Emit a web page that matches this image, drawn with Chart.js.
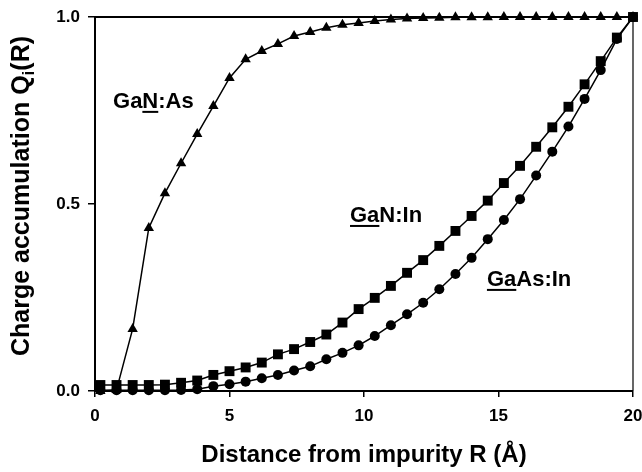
<!DOCTYPE html>
<html lang="en">
<head>
    <meta charset="UTF-8">
    <title>Charge accumulation</title>
    <style>
        html, body {margin: 0; padding: 0; background: #fff;}
        #wrap {width: 642px; height: 472px;}
    </style>
    <script src="https://cdn.jsdelivr.net/npm/chart.js@4.4.0/dist/chart.umd.min.js"></script>
</head>
<body>
    <div id="wrap">
        <canvas id="qChart" width="642" height="472"></canvas>
    </div>

    <script>
        // distance from impurity R (Angstrom)
        const distances = [0.2, 0.8, 1.4, 2.0, 2.6, 3.2, 3.8, 4.4, 5.0, 5.6, 6.2, 6.8, 7.4, 8.0, 8.6, 9.2, 9.8,
                           10.4, 11.0, 11.6, 12.2, 12.8, 13.4, 14.0, 14.6, 15.2, 15.8, 16.4, 17.0, 17.6, 18.2, 18.8, 19.4, 20.0];

        // GaN:As (triangles)
        const ganAs = [0.0, 0.003, 0.166, 0.436, 0.529, 0.609, 0.687, 0.762, 0.837, 0.887, 0.909, 0.928, 0.949, 0.960, 0.971, 0.979, 0.984,
                       0.989, 0.993, 0.996, 0.997, 0.998, 0.999, 0.999, 0.999, 1.0, 1.0, 1.0, 1.0, 1.0, 1.0, 1.0, 1.0, 1.0];

        // GaN:In (squares)
        const ganIn = [0.016, 0.016, 0.016, 0.016, 0.017, 0.022, 0.028, 0.043, 0.053, 0.063, 0.076, 0.098, 0.112, 0.131, 0.151, 0.183, 0.219,
                       0.249, 0.281, 0.316, 0.350, 0.388, 0.428, 0.468, 0.509, 0.556, 0.602, 0.653, 0.705, 0.760, 0.820, 0.882, 0.945, 1.0];

        // GaAs:In (circles)
        const gaasIn = [0.002, 0.002, 0.002, 0.002, 0.002, 0.003, 0.005, 0.013, 0.018, 0.025, 0.034, 0.043, 0.055, 0.066, 0.085, 0.102, 0.122,
                        0.147, 0.176, 0.205, 0.236, 0.272, 0.313, 0.356, 0.406, 0.457, 0.513, 0.576, 0.640, 0.707, 0.781, 0.858, 0.941, 1.0];

        const xTicks = [0, 5, 10, 15, 20];
        const yTicks = [0.0, 0.5, 1.0];

        // text labels next to the curves: [left part, underlined part, right part, x, y]
        const curveLabels = [
            ['Ga', 'N', ':As', 0.67, 0.757],
            ['', 'Ga', 'N:In', 9.48, 0.452],
            ['', 'Ga', 'As:In', 14.57, 0.281]
        ];

        const FONT = '"Liberation Sans", Arial, Helvetica, sans-serif';

        function toPoints(ys) {
            return distances.map((x, i) => ({x: x, y: ys[i]}));
        }

        function series(label, ys, style, radius) {
            return {
                label: label,
                data: toPoints(ys),
                showLine: true,
                borderColor: '#000',
                borderWidth: 1.5,
                backgroundColor: '#000',
                pointBackgroundColor: '#000',
                pointBorderColor: '#000',
                pointBorderWidth: 0,
                pointStyle: style,
                pointRadius: radius,
                pointHoverRadius: radius,
                tension: 0,
                clip: false
            };
        }

        // box + axis titles + curve labels
        const extras = {
            id: 'extras',
            afterDraw(chart) {
                const ctx = chart.ctx;
                const a = chart.chartArea;
                const xs = chart.scales.x, ys = chart.scales.y;
                ctx.save();
                ctx.strokeStyle = '#000';
                ctx.lineWidth = 2;
                ctx.beginPath();
                ctx.moveTo(a.right, a.top);
                ctx.lineTo(a.left, a.top);
                ctx.lineTo(a.left, a.bottom);
                ctx.lineTo(a.right, a.bottom);
                ctx.stroke();
                ctx.lineWidth = 1.2;
                ctx.beginPath();
                ctx.moveTo(a.right, a.top);
                ctx.lineTo(a.right, a.bottom);
                ctx.stroke();

                ctx.fillStyle = '#000';

                // x title
                ctx.font = 'bold 24px ' + FONT;
                ctx.textAlign = 'center';
                ctx.textBaseline = 'alphabetic';
                ctx.fillText('Distance from impurity R (\u00C5)', (a.left + a.right) / 2, 462);

                // y title with subscript i
                ctx.save();
                ctx.translate(29, 196);
                ctx.rotate(-Math.PI / 2);
                ctx.textAlign = 'left';
                const big = 'bold 25px ' + FONT, small = 'bold 17px ' + FONT;
                ctx.font = big;
                const p1 = 'Charge accumulation Q', p3 = '(R)';
                const w1 = ctx.measureText(p1).width, w3 = ctx.measureText(p3).width;
                ctx.font = small;
                const w2 = ctx.measureText('i').width;
                let x0 = -(w1 + w2 + w3) / 2;
                ctx.font = big;
                ctx.fillText(p1, x0, 0);
                ctx.font = small;
                ctx.fillText('i', x0 + w1, 5);
                ctx.font = big;
                ctx.fillText(p3, x0 + w1 + w2, 0);
                ctx.restore();

                // curve labels
                ctx.font = 'bold 22px ' + FONT;
                ctx.textAlign = 'left';
                curveLabels.forEach(l => {
                    const px = xs.getPixelForValue(l[3]);
                    const py = ys.getPixelForValue(l[4]);
                    const wa = ctx.measureText(l[0]).width;
                    const wb = ctx.measureText(l[1]).width;
                    ctx.fillText(l[0] + l[1] + l[2], px, py);
                    ctx.fillRect(px + wa, py + 3, wb, 2);
                });
                ctx.restore();
            }
        };

        const chart = new Chart(document.getElementById('qChart'), {
            type: 'scatter',
            data: {
                datasets: [
                    series('GaN:As', ganAs, 'triangle', 6),
                    series('GaN:In', ganIn, 'rect', 7),
                    series('GaAs:In', gaasIn, 'circle', 5)
                ]
            },
            options: {
                responsive: false,
                animation: false,
                devicePixelRatio: 1,
                layout: {padding: {top: 17, right: 9, left: 0, bottom: 0}},
                plugins: {legend: {display: false}, tooltip: {enabled: false}},
                scales: {
                    x: {
                        type: 'linear',
                        min: 0, max: 20,
                        afterFit: s => { s.height = 81; s.paddingLeft = 0; s.paddingRight = 0; },
                        afterBuildTicks: s => { s.ticks = xTicks.map(v => ({value: v})); },
                        grid: {display: true, drawOnChartArea: false, drawTicks: true, tickLength: 6, color: '#000', lineWidth: 1.5},
                        border: {display: false},
                        ticks: {
                            color: '#000', padding: 9, maxRotation: 0,
                            font: {family: FONT, size: 17, weight: 'bold'}
                        }
                    },
                    y: {
                        min: 0, max: 1,
                        afterFit: s => { s.width = 95; s.paddingTop = 0; s.paddingBottom = 0; },
                        afterBuildTicks: s => { s.ticks = yTicks.map(v => ({value: v})); },
                        grid: {display: true, drawOnChartArea: false, drawTicks: true, tickLength: 7, color: '#000', lineWidth: 1.5},
                        border: {display: false},
                        ticks: {
                            color: '#000', padding: 8,
                            font: {family: FONT, size: 17, weight: 'bold'},
                            callback: v => v.toFixed(1)
                        }
                    }
                }
            },
            plugins: [extras]
        });
    </script>
</body>
</html>
